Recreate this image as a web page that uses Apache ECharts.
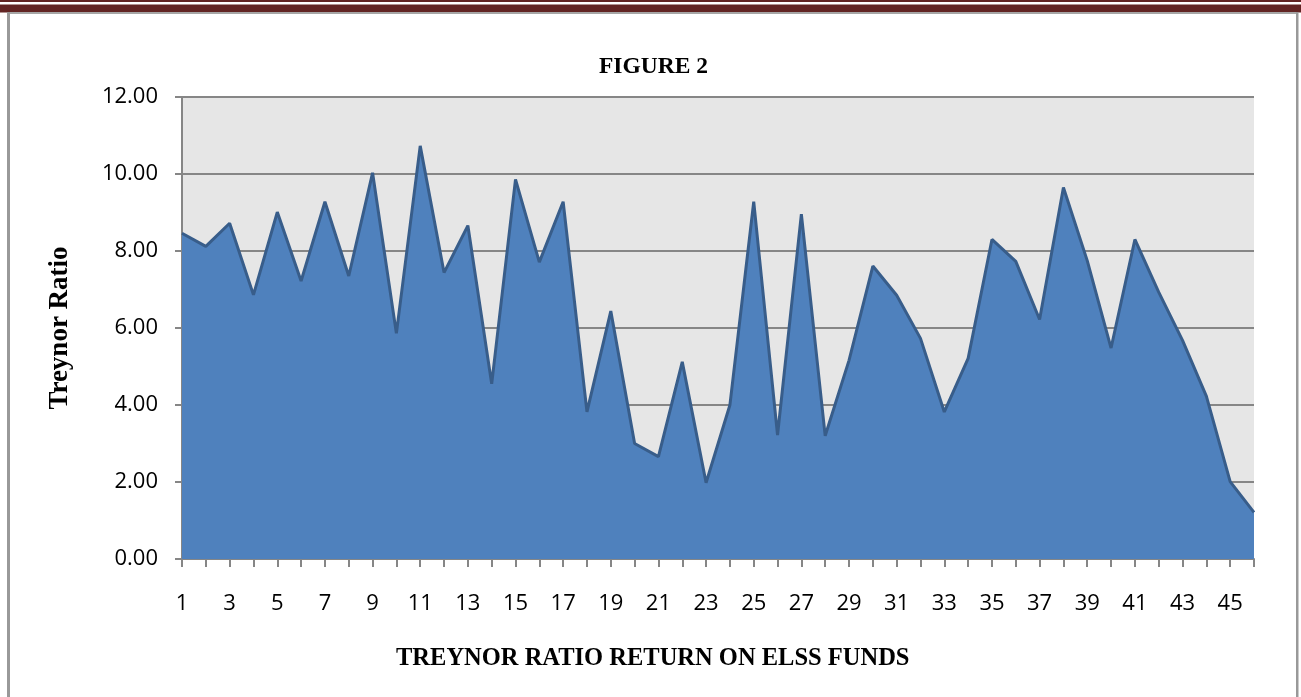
<!DOCTYPE html>
<html>
<head>
<meta charset="utf-8">
<script src="https://cdn.jsdelivr.net/npm/echarts@6/dist/echarts.min.js"></script>
<style>
  html, body { margin: 0; padding: 0; background: #fff; }
  #chart { width: 1301px; height: 697px; }
</style>
</head>
<body>
<div id="chart"></div>
<script>
// fund numbers on the x axis
const funds = ['1','2','3','4','5','6','7','8','9','10','11','12','13','14','15','16','17','18','19','20',
  '21','22','23','24','25','26','27','28','29','30','31','32','33','34','35','36','37','38','39','40',
  '41','42','43','44','45','46']
// treynor ratio per fund
const treynor = [8.46, 8.12, 8.72, 6.86, 9.01, 7.22, 9.28, 7.35, 10.03, 5.86,
  10.73, 7.44, 8.66, 4.55, 9.86, 7.71, 9.28, 3.82, 6.44, 3.00,
  2.66, 5.12, 1.98, 4.00, 9.28, 3.22, 8.96, 3.20, 5.16, 7.61,
  6.85, 5.73, 3.82, 5.21, 8.30, 7.73, 6.22, 9.65, 7.75, 5.48,
  8.30, 6.93, 5.68, 4.23, 2.01, 1.21]
const yTicks = { min: 0, max: 12, interval: 2 }

const serif = '"Liberation Serif", "Times New Roman", serif'
const sans = '"Open Sans", "Noto Sans", sans-serif'

const chart = echarts.init(document.getElementById('chart'))
chart.setOption({
  animation: false,
  backgroundColor: '#fff',
  // page frame: dark red bands on top and the gray box
  graphic: [
    { type: 'rect', shape: { x: 0, y: 0, width: 1301, height: 2 }, style: { fill: '#622423' } },
    { type: 'rect', shape: { x: 0, y: 4.5, width: 1301, height: 8 }, style: { fill: '#622423' } },
    { type: 'rect', shape: { x: 7, y: 12, width: 1291, height: 2 }, style: { fill: '#a6a6a6' } },
    { type: 'rect', shape: { x: 7, y: 12, width: 3, height: 685 }, style: { fill: '#999' } },
    { type: 'rect', shape: { x: 1296, y: 12, width: 2.5, height: 685 }, style: { fill: '#999' } }
  ],
  title: [
    {
      text: 'FIGURE 2',
      left: 594,
      top: 50,
      textStyle: { fontFamily: serif, fontWeight: 'bold', fontSize: 23.5, color: '#000' }
    },
    {
      text: 'TREYNOR RATIO RETURN ON ELSS FUNDS',
      left: 391,
      top: 641,
      textStyle: { fontFamily: serif, fontWeight: 'bold', fontSize: 24.5, color: '#000' }
    }
  ],
  grid: { left: 182, right: 47, top: 97, bottom: 138, backgroundColor: '#e6e6e6', show: true, borderWidth: 0 },
  xAxis: {
    type: 'category',
    data: funds,
    boundaryGap: false,
    axisLine: { lineStyle: { color: '#868686', width: 2 } },
    axisTick: { show: true, interval: 0, length: 8, lineStyle: { color: '#868686', width: 2 } },
    axisLabel: { interval: 1, margin: 34, fontFamily: sans, fontSize: 22, color: '#000' },
    splitLine: { show: false }
  },
  yAxis: {
    type: 'value',
    min: yTicks.min,
    max: yTicks.max,
    interval: yTicks.interval,
    name: 'Treynor Ratio',
    nameLocation: 'middle',
    nameGap: 108,
    nameTextStyle: { fontFamily: serif, fontWeight: 'bold', fontSize: 27, color: '#000' },
    axisLine: { show: true, lineStyle: { color: '#868686', width: 2 } },
    axisTick: { show: true, length: 7, lineStyle: { color: '#868686', width: 2 } },
    axisLabel: { margin: 24, fontFamily: sans, fontSize: 22, color: '#000', formatter: v => v.toFixed(2) },
    splitLine: { lineStyle: { color: '#868686', width: 2 } }
  },
  series: [{
    type: 'line',
    data: treynor,
    symbol: 'none',
    lineStyle: { color: '#385d8a', width: 3 },
    areaStyle: { color: '#4f81bd', opacity: 1 },
    z: 3
  }]
})
</script>
</body>
</html>
